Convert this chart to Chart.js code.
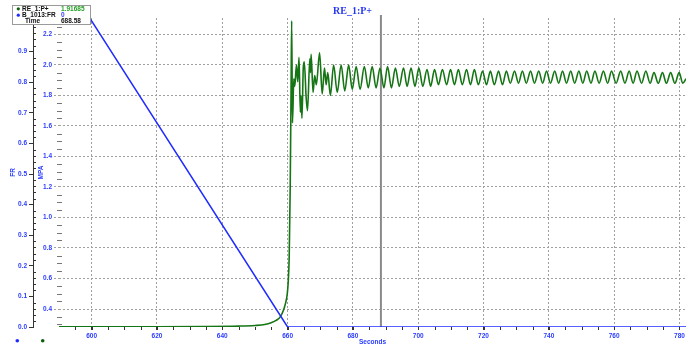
<!DOCTYPE html>
<html>
<head>
<meta charset="utf-8">
<script src="https://cdn.jsdelivr.net/npm/chart.js@4.4.0/dist/chart.umd.min.js"></script>
<style>
  html, body { margin: 0; padding: 0; background: #fff; }
  #wrap { width: 696px; height: 346px; position: relative; }
</style>
</head>
<body>
<div id="wrap"><canvas id="reChart" width="696" height="346"></canvas></div>
<script>
// ---- data ----
const chartTitle = 'RE_1:P+';

// B_1013:FR (left axis, FR)
const frTime = [590, 660, 782];
const frValue = [1.167, 0, 0];

// RE_1:P+ (MPA axis)
const pTime = [
  590, 620, 635, 645, 650, 653, 655, 656.5, 657.8, 658.7, 659.4, 659.9, 660.2, 660.5, 660.8, 661.05,
  661.25, 661.5, 661.9, 662.2, 662.7, 663.1, 663.5, 663.9, 664.1, 664.4, 664.8, 665.1, 665.7, 666.1,
  666.8, 667.0, 667.2, 667.8, 668.3, 668.8, 669.8, 670.6, 671.3, 671.8, 672.3, 673.1,
  674.1, 675.2, 676.4, 677.5, 678.7, 679.8, 681.0, 682.2, 683.5, 684.7, 685.9, 687.1, 688.3, 689.5,
  690.6, 691.8, 693.0, 694.2, 695.5, 696.6, 697.8, 699.0, 700.2, 701.4, 702.7, 703.8, 705.0, 706.2,
  707.4, 708.7, 709.9, 711.1, 712.3, 713.5, 714.8, 716.0, 717.2, 718.4, 719.7, 720.9, 722.1, 723.3,
  724.6, 725.8, 727.0, 728.2, 729.5, 730.7, 731.9, 733.1, 734.4, 735.6, 736.9, 738.1, 739.3, 740.5,
  741.8, 743.0, 744.2, 745.4, 746.7, 747.9, 749.2, 750.4, 751.6, 752.9, 754.1, 755.4, 756.7, 758.0,
  759.2, 760.6, 762.0, 763.3, 764.6, 765.8, 767.0, 768.4, 769.7, 771.0, 772.2, 773.5, 774.8, 776.0,
  777.3, 778.6, 779.9, 781.0, 782
];
const pValue = [
  0.284, 0.284, 0.285, 0.288, 0.292, 0.298, 0.31, 0.325, 0.35, 0.39, 0.44, 0.50, 0.58, 0.75, 1.20, 1.80,
  2.29, 1.62, 1.91, 1.86, 2.00, 1.89, 2.05, 1.69, 1.80, 1.65, 1.98, 2.02, 1.78, 1.70,
  2.04, 1.95, 2.07, 1.82, 1.93, 1.87, 2.08, 1.81, 1.98, 1.87, 1.95, 1.80,
  2.00, 1.82, 2.00, 1.83, 2.00, 1.84, 1.99, 1.84, 1.99, 1.85, 1.99, 1.85, 1.98, 1.85,
  1.99, 1.85, 1.98, 1.86, 1.98, 1.86, 1.98, 1.86, 1.98, 1.86, 1.97, 1.86, 1.97, 1.87,
  1.97, 1.87, 1.97, 1.87, 1.97, 1.87, 1.97, 1.87, 1.97, 1.87, 1.96, 1.87, 1.96, 1.87,
  1.96, 1.87, 1.96, 1.88, 1.96, 1.88, 1.96, 1.88, 1.96, 1.88, 1.96, 1.88, 1.96, 1.88,
  1.96, 1.88, 1.96, 1.88, 1.96, 1.88, 1.96, 1.88, 1.96, 1.88, 1.96, 1.88, 1.96, 1.88,
  1.96, 1.88, 1.96, 1.88, 1.96, 1.88, 1.96, 1.88, 1.96, 1.88, 1.95, 1.88, 1.95, 1.88,
  1.95, 1.88, 1.95, 1.88, 1.91
];

// axis ticks
const xTicks = [600, 620, 640, 660, 680, 700, 720, 740, 760, 780];
const pTicks = [0.4, 0.6, 0.8, 1.0, 1.2, 1.4, 1.6, 1.8, 2.0, 2.2];
const frTicks = [0, 0.1, 0.2, 0.3, 0.4, 0.5, 0.6, 0.7, 0.8, 0.9];

// cursor readout
const cursorTime = 688.58;
const legendRows = [
  { name: 'RE_1:P+', value: '1.91685', dot: '#0d5e0d', color: '#22a022' },
  { name: 'B_1013:FR', value: '0', dot: '#1f2bff', color: '#3a3aff' },
  { name: 'Time', value: '688.58', dot: null, color: '#111' }
];

// ---- styling ----
const blue = '#1f2bff';
const green = '#157515';
const axisBlue = '#2a3cff';
const gridGray = '#a0a0a0';
const tickFont = { family: 'Liberation Sans', size: 6.5, weight: 'bold' };

function pts(xs, ys) {
  return xs.map((x, i) => ({ x: x, y: ys[i] }));
}

const extras = {
  id: 'extras',
  beforeDatasetsDraw(chart) {
    const ctx = chart.ctx;
    const a = chart.chartArea;
    const x = chart.scales.x;
    ctx.save();
    // cursor line
    const cx = x.getPixelForValue(cursorTime);
    ctx.strokeStyle = '#8a8a8a';
    ctx.lineWidth = 2;
    ctx.beginPath();
    ctx.moveTo(cx, a.top - 3);
    ctx.lineTo(cx, a.bottom);
    ctx.stroke();
    ctx.restore();
  },
  afterDraw(chart) {
    const ctx = chart.ctx;
    const a = chart.chartArea;
    const x = chart.scales.x, p = chart.scales.p, fr = chart.scales.fr;
    ctx.save();
    ctx.lineWidth = 1;

    // minor ticks on x axis, every 5 s
    ctx.strokeStyle = '#333';
    ctx.beginPath();
    for (let t = 595; t <= 780; t += 5) {
      const px = Math.round(x.getPixelForValue(t)) + 0.5;
      ctx.moveTo(px, a.bottom);
      ctx.lineTo(px, a.bottom + 3);
    }
    ctx.stroke();

    // minor ticks on FR axis, every 0.02
    ctx.beginPath();
    for (let i = 0; i <= 50; i++) {
      if (i % 5 === 0) continue;
      const py = Math.round(fr.getPixelForValue(i * 0.02)) + 0.5;
      ctx.moveTo(fr.right, py);
      ctx.lineTo(fr.right + 3, py);
    }
    ctx.stroke();

    // minor dashes on MPA axis, every 0.05
    ctx.strokeStyle = '#777';
    ctx.beginPath();
    for (let i = 6; i <= 45; i++) {
      if (i % 4 === 0) continue;
      const py = Math.round(p.getPixelForValue(i * 0.05)) + 0.5;
      ctx.moveTo(a.left - 2, py);
      ctx.lineTo(a.left + 3, py);
    }
    ctx.stroke();

    // chart title
    ctx.fillStyle = '#2536f0';
    ctx.font = 'bold 10px "Liberation Serif"';
    ctx.textAlign = 'center';
    ctx.textBaseline = 'middle';
    ctx.fillText(chartTitle, 352.5, 11);

    // legend / readout box
    ctx.fillStyle = '#fff';
    ctx.fillRect(12, 5, 79, 20);
    ctx.strokeStyle = '#9a9a9a';
    ctx.strokeRect(12.5, 5.5, 78, 19);
    ctx.font = 'bold 6.5px "Liberation Sans"';
    ctx.textAlign = 'left';
    legendRows.forEach((r, i) => {
      const y = 8.8 + i * 6.4;
      if (r.dot) {
        ctx.fillStyle = r.dot;
        ctx.beginPath();
        ctx.arc(18.3, y, 1.6, 0, Math.PI * 2);
        ctx.fill();
      }
      ctx.fillStyle = '#111';
      ctx.fillText(r.name, r.dot ? 22 : 25, y);
      ctx.fillStyle = r.color;
      ctx.fillText(r.value, 61, y);
    });

    // series markers under the axes
    [[17.3, blue], [42.7, '#0d5e0d']].forEach(d => {
      ctx.fillStyle = d[1];
      ctx.beginPath();
      ctx.arc(d[0], 340.7, 1.8, 0, Math.PI * 2);
      ctx.fill();
    });
    ctx.restore();
  }
};

const ctx = document.getElementById('reChart').getContext('2d');
const reChart = new Chart(ctx, {
  type: 'line',
  data: {
    datasets: [
      {
        label: 'B_1013:FR',
        data: pts(frTime, frValue),
        yAxisID: 'fr',
        borderColor: blue,
        borderWidth: 1.5,
        pointRadius: 0,
        tension: 0
      },
      {
        label: 'RE_1:P+',
        data: pts(pTime, pValue),
        yAxisID: 'p',
        borderColor: green,
        borderWidth: 1.6,
        pointRadius: 0,
        cubicInterpolationMode: 'monotone'
      }
    ]
  },
  options: {
    responsive: false,
    animation: false,
    events: [],
    layout: { padding: { top: 18, right: 10, left: 0, bottom: 0 } },
    plugins: {
      legend: { display: false },
      title: { display: false },
      tooltip: { enabled: false }
    },
    scales: {
      x: {
        type: 'linear',
        min: 590,
        max: 782,
        afterBuildTicks: s => { s.ticks = xTicks.map(v => ({ value: v })); },
        afterFit: s => { s.height = 19; },
        ticks: { color: axisBlue, font: tickFont, padding: 2.5, maxRotation: 0, callback: v => String(v) },
        grid: { color: gridGray, borderDash: [2, 2], tickLength: 3, tickColor: '#333' },
        border: { display: false, dash: [2, 2] },
        title: { display: true, text: 'Seconds', color: axisBlue, font: tickFont, padding: 0 }
      },
      fr: {
        type: 'linear',
        position: 'left',
        weight: 1,
        min: 0,
        max: 1.01,
        afterBuildTicks: s => { s.ticks = frTicks.map(v => ({ value: v })); },
        afterFit: s => { s.width = 33; },
        ticks: { color: axisBlue, font: tickFont, padding: 2, callback: v => v.toFixed(1) },
        grid: { drawOnChartArea: false, tickLength: 4, tickColor: '#333' },
        border: { display: true, color: '#333', width: 1 },
        title: { display: true, text: 'FR', color: axisBlue, font: tickFont, padding: { top: 9, bottom: 0 } }
      },
      p: {
        type: 'linear',
        position: 'left',
        weight: 0,
        min: 0.282,
        max: 2.308,
        afterBuildTicks: s => { s.ticks = pTicks.map(v => ({ value: v })); },
        afterFit: s => { s.width = 26; },
        ticks: { color: axisBlue, font: tickFont, padding: 2, callback: v => v.toFixed(1) },
        grid: { color: gridGray, borderDash: [2, 2], tickLength: 5, tickColor: gridGray, tickBorderDash: [2, 2] },
        border: { display: false, dash: [2, 2] },
        title: { display: true, text: 'MPA', color: axisBlue, font: tickFont, padding: { top: 4, bottom: 0 } }
      }
    }
  },
  plugins: [extras]
});
</script>
</body>
</html>
